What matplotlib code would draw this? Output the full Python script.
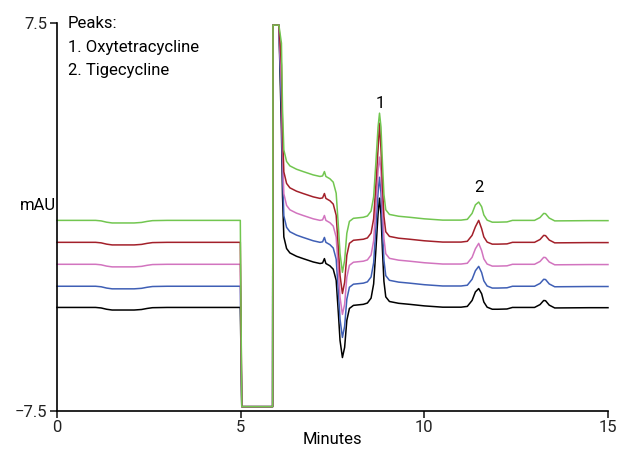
import numpy as np
import matplotlib
matplotlib.use("Agg")
import matplotlib.pyplot as plt
from matplotlib import font_manager

# 字體：優先用窄體
names = {f.name for f in font_manager.fontManager.ttflist}
fam = [f for f in ["Liberation Sans Narrow", "Roboto", "DejaVu Sans"] if f in names]
plt.rcParams['font.family'] = fam

# 時間 (min) 與最下方黑線的讀值 (mAU)
t_min = [0.00, 1.05, 1.20, 1.35, 1.50, 2.10, 2.30, 2.45, 2.60, 3.00, 4.99,
         5.03, 5.87, 5.88, 6.04,
         6.11, 6.14, 6.175, 6.25, 6.34, 6.52, 6.70, 6.975, 7.16, 7.23, 7.28, 7.32, 7.43,
         7.52, 7.60, 7.66, 7.705, 7.77, 7.83, 7.89, 7.96, 8.07, 8.34,
         8.45, 8.55, 8.62, 8.68, 8.74, 8.78, 8.82, 8.86, 8.90, 8.95, 9.05, 9.30, 9.60,
         10.0, 10.5, 11.0, 11.17, 11.30, 11.39, 11.48, 11.56, 11.62, 11.71, 11.85,
         12.0, 12.25, 12.40, 13.00, 13.15, 13.25, 13.30, 13.40, 13.55, 14.50, 15.00]
black_mau = [-3.51, -3.51, -3.53, -3.58, -3.61, -3.61, -3.59, -3.55, -3.52, -3.51, -3.51,
             -7.35, -7.35, 7.42, 7.42,
             3.35, 0.77, -0.78, -1.23, -1.40, -1.53, -1.62, -1.75, -1.81, -1.79, -1.62, -1.81, -1.90,
             -2.03, -2.46, -3.74, -4.79, -5.45, -5.06, -4.01, -3.55, -3.43, -3.39,
             -3.34, -3.15, -2.60, -1.30, 0.10, 0.72, 0.10, -1.30, -2.50, -3.10, -3.28, -3.35, -3.39,
             -3.45, -3.50, -3.50, -3.47, -3.24, -2.91, -2.78, -2.98, -3.30, -3.50, -3.58,
             -3.58, -3.57, -3.51, -3.51, -3.40, -3.24, -3.25, -3.42, -3.53, -3.52, -3.52]

# 各條線：基線偏移、峰頂、谷底
trace_colors = ['#000000', '#3f5fb5', '#d274bf', '#a3202a', '#72c650']
trace_offsets = [0.0, 0.82, 1.67, 2.52, 3.37]
peak1_apex = [0.72, 1.53, 2.31, 3.62, 4.01]
peak2_apex = [-2.78, -1.92, -1.03, -0.14, 0.57]
dip_min = [-5.45, -4.67, -3.78, -2.97, -2.15]

fig = plt.figure(figsize=(6.17, 4.53), dpi=100)
ax = fig.add_axes([0.0924, 0.0938, 0.893, 0.8554])

t = np.array(t_min)
base = np.array(black_mau)
sat = np.abs(base) > 7.0
i_p1 = t_min.index(8.78)
i_p2 = t_min.index(11.48)
i_dip = t_min.index(7.77)

for k in range(len(trace_colors)):
    y = base + np.where(sat, 0.0, trace_offsets[k])
    y[i_p1] = peak1_apex[k]
    y[i_p2] = peak2_apex[k]
    y[i_dip] = dip_min[k]
    ax.plot(t, y, color=trace_colors[k], lw=1.1, clip_on=False)

ax.set_xlim(0, 15)
ax.set_ylim(-7.5, 7.5)
ax.set_xticks([0, 5, 10, 15])
ax.set_yticks([-7.5, 7.5])
ax.set_yticklabels(['\u22127.5', '7.5'])
ax.spines['top'].set_visible(False)
ax.spines['right'].set_visible(False)
for s in ['left', 'bottom']:
    ax.spines[s].set_linewidth(1.2)
ax.tick_params(direction='out', length=5, width=1.2, labelsize=12, pad=2, colors='#222222')
ax.set_xlabel('Minutes', fontsize=12, labelpad=-2)
ax.text(-0.52, 0.45, 'mAU', ha='center', va='center', fontsize=12)

# 峰標記
ax.text(8.80, 4.4, '1', ha='center', va='center', fontsize=12)
ax.text(11.50, 1.14, '2', ha='center', va='center', fontsize=12)

fig.text(68 / 617, 1 - 16 / 453, 'Peaks:\n1. Oxytetracycline\n2. Tigecycline',
         ha='left', va='top', fontsize=12, linespacing=1.72)

fig.savefig('out.png', dpi=100)
